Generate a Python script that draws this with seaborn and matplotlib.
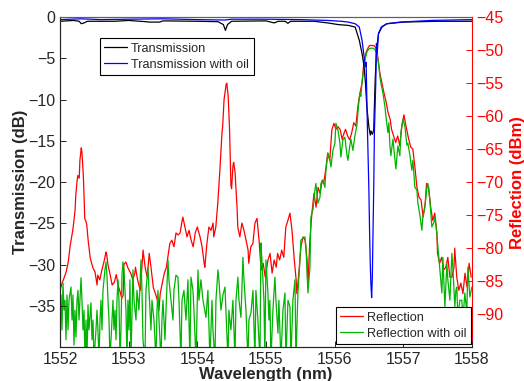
import pandas as pd
import matplotlib
matplotlib.use("Agg")
import matplotlib.pyplot as plt
import seaborn as sns

# ---- data (wavelength nm, value) ----
trans = [
    (1552.00, -0.5), (1552.20, -0.4), (1552.28, -0.5), (1552.31, -0.8), (1552.35, -0.7),
    (1552.40, -0.5), (1552.80, -0.5), (1553.00, -0.4), (1553.25, -0.55), (1553.30, -0.6),
    (1553.45, -0.6), (1553.50, -0.45), (1554.00, -0.5), (1554.30, -0.55), (1554.38, -0.9),
    (1554.41, -1.6), (1554.44, -0.9), (1554.50, -0.5), (1555.00, -0.45), (1555.12, -0.7),
    (1555.18, -0.5), (1555.28, -0.5), (1555.32, -0.75), (1555.36, -0.5), (1555.70, -0.5),
    (1555.90, -0.7), (1556.05, -0.9), (1556.20, -1.0), (1556.30, -1.2), (1556.36, -2.8),
    (1556.40, -4.4), (1556.43, -6.0), (1556.45, -8.0), (1556.47, -10.9), (1556.50, -13.3),
    (1556.52, -14.3), (1556.53, -13.8), (1556.55, -14.2), (1556.57, -13.7), (1556.59, -8.0),
    (1556.61, -4.0), (1556.64, -2.0), (1556.69, -1.2), (1556.76, -0.8), (1557.00, -0.6),
    (1557.50, -0.5), (1558.00, -0.5),
]

trans_oil = [
    (1552.00, -0.3), (1552.30, -0.2), (1552.60, -0.3), (1553.00, -0.25), (1553.50, -0.2),
    (1554.00, -0.3), (1554.40, -0.35), (1554.50, -0.25), (1555.00, -0.25), (1555.50, -0.3),
    (1555.90, -0.4), (1556.10, -0.5), (1556.20, -0.6), (1556.30, -0.8), (1556.36, -1.2),
    (1556.40, -2.8), (1556.43, -4.8), (1556.45, -6.0), (1556.46, -5.5), (1556.47, -10.0),
    (1556.48, -14.0), (1556.50, -21.0), (1556.51, -26.0), (1556.52, -30.0), (1556.53, -32.5),
    (1556.54, -34.0), (1556.55, -31.5), (1556.56, -26.0), (1556.57, -21.0), (1556.58, -14.0),
    (1556.60, -8.0), (1556.61, -3.2), (1556.62, -4.5), (1556.64, -2.0), (1556.68, -1.2),
    (1556.76, -0.8), (1556.95, -0.6), (1557.40, -0.4), (1558.00, -0.3),
]

refl = [
    (1552.00, -86.4), (1552.03, -85.3), (1552.06, -84.5), (1552.09, -83.6), (1552.12, -82.1),
    (1552.15, -79.5), (1552.17, -78.3), (1552.19, -77.0), (1552.22, -74.2), (1552.23, -72.0),
    (1552.25, -69.7), (1552.26, -69.0), (1552.28, -69.4), (1552.29, -66.7), (1552.31, -64.8),
    (1552.32, -65.5), (1552.34, -69.0), (1552.35, -72.0), (1552.36, -75.5), (1552.38, -76.0),
    (1552.39, -76.5), (1552.41, -78.8), (1552.44, -81.5), (1552.47, -82.6), (1552.48, -83.0),
    (1552.51, -83.6), (1552.54, -85.6), (1552.55, -84.1), (1552.58, -84.8), (1552.61, -83.3),
    (1552.64, -82.1), (1552.67, -80.6), (1552.68, -81.0), (1552.70, -82.6), (1552.73, -84.0),
    (1552.76, -85.6), (1552.79, -85.2), (1552.82, -84.0), (1552.85, -85.8), (1552.87, -86.4),
    (1552.90, -87.6), (1552.92, -87.2), (1552.93, -82.5), (1552.96, -82.1), (1552.99, -83.0),
    (1553.03, -83.8), (1553.06, -84.8), (1553.09, -83.8), (1553.10, -82.9), (1553.13, -84.8),
    (1553.17, -86.4), (1553.21, -80.3), (1553.24, -82.9), (1553.27, -84.4), (1553.30, -80.8),
    (1553.33, -83.3), (1553.36, -86.0), (1553.39, -86.9), (1553.42, -87.9), (1553.44, -89.5),
    (1553.46, -86.9), (1553.49, -85.3), (1553.52, -83.8), (1553.55, -82.9), (1553.58, -80.8),
    (1553.60, -79.3), (1553.63, -78.8), (1553.66, -79.8), (1553.69, -77.7), (1553.72, -78.0),
    (1553.75, -77.7), (1553.78, -75.8), (1553.79, -75.3), (1553.82, -76.8), (1553.85, -78.3),
    (1553.88, -77.3), (1553.91, -78.8), (1553.94, -79.8), (1553.97, -77.7), (1554.00, -76.8),
    (1554.04, -78.3), (1554.07, -79.8), (1554.10, -82.3), (1554.11, -82.9), (1554.14, -79.3),
    (1554.17, -76.8), (1554.20, -77.3), (1554.23, -76.2), (1554.24, -78.3), (1554.27, -76.8),
    (1554.30, -73.0), (1554.33, -68.0), (1554.36, -62.5), (1554.37, -61.5), (1554.39, -57.5),
    (1554.42, -55.2), (1554.43, -55.0), (1554.45, -57.0), (1554.47, -62.0), (1554.49, -70.5),
    (1554.50, -71.0), (1554.52, -67.5), (1554.53, -67.0), (1554.55, -68.5), (1554.58, -74.0),
    (1554.59, -76.8), (1554.62, -78.3), (1554.65, -76.2), (1554.68, -77.3), (1554.71, -78.8),
    (1554.74, -80.3), (1554.75, -82.3), (1554.78, -79.8), (1554.81, -79.3), (1554.84, -76.2),
    (1554.87, -75.5), (1554.90, -78.8), (1554.93, -83.3), (1554.96, -82.3), (1554.99, -84.4),
    (1555.03, -81.8), (1555.06, -80.8), (1555.09, -83.8), (1555.12, -81.8), (1555.15, -82.9),
    (1555.17, -80.8), (1555.20, -81.8), (1555.23, -80.3), (1555.26, -81.4), (1555.29, -76.8),
    (1555.32, -75.8), (1555.35, -74.7), (1555.38, -77.3), (1555.41, -81.4), (1555.44, -84.8),
    (1555.45, -86.9), (1555.48, -83.8), (1555.51, -79.8), (1555.54, -78.3), (1555.57, -78.8),
    (1555.60, -81.8), (1555.61, -86.0), (1555.64, -78.8), (1555.67, -74.7), (1555.70, -71.7),
    (1555.73, -73.8), (1555.76, -70.8), (1555.79, -71.7), (1555.82, -69.7), (1555.84, -70.2),
    (1555.87, -68.2), (1555.90, -65.6), (1555.93, -66.7), (1555.96, -62.1), (1555.99, -61.1),
    (1556.02, -62.0), (1556.05, -61.6), (1556.08, -62.0), (1556.11, -63.5), (1556.14, -62.5),
    (1556.16, -62.0), (1556.19, -63.0), (1556.22, -63.6), (1556.25, -62.5), (1556.28, -61.0),
    (1556.31, -61.5), (1556.34, -58.5), (1556.37, -56.5), (1556.40, -55.0), (1556.43, -51.5),
    (1556.46, -50.3), (1556.49, -49.6), (1556.51, -49.3), (1556.54, -49.3), (1556.57, -49.3),
    (1556.60, -49.6), (1556.63, -51.0), (1556.66, -53.5), (1556.69, -55.0), (1556.72, -56.5),
    (1556.75, -57.8), (1556.78, -59.5), (1556.81, -60.5), (1556.83, -62.0), (1556.86, -63.0),
    (1556.89, -64.0), (1556.92, -63.0), (1556.95, -64.5), (1556.98, -61.5), (1557.01, -59.8),
    (1557.04, -61.5), (1557.08, -63.5), (1557.11, -64.7), (1557.14, -65.0), (1557.17, -67.7),
    (1557.20, -70.8), (1557.23, -72.3), (1557.26, -72.7), (1557.29, -75.3), (1557.32, -73.2),
    (1557.34, -70.2), (1557.37, -70.8), (1557.40, -73.8), (1557.43, -75.8), (1557.46, -74.7),
    (1557.49, -77.7), (1557.50, -80.8), (1557.53, -82.3), (1557.56, -81.4), (1557.59, -83.3),
    (1557.62, -82.9), (1557.65, -81.4), (1557.68, -84.4), (1557.71, -84.4), (1557.74, -82.9),
    (1557.75, -80.0), (1557.78, -84.4), (1557.81, -86.4), (1557.84, -85.3), (1557.87, -86.9),
    (1557.90, -83.8), (1557.93, -85.9), (1557.96, -82.3), (1557.99, -84.4),
]

# values below -95 run off the bottom of the axes
refl_oil = [
    (1552.000, -90.9), (1552.015, -87.1), (1552.029, -92.4), (1552.044, -85.3), (1552.058, -89.4),
    (1552.073, -87.9), (1552.087, -93.9), (1552.102, -87.1), (1552.117, -92.4), (1552.131, -87.9),
    (1552.160, -85.9), (1552.175, -90.9), (1552.189, -87.1), (1552.204, -94.7), (1552.218, -89.4),
    (1552.233, -93.5), (1552.248, -87.9), (1552.262, -86.4), (1552.277, -90.9), (1552.306, -84.5),
    (1552.320, -87.9), (1552.335, -92.4), (1552.350, -89.4), (1552.364, -97.0), (1552.379, -90.9),
    (1552.393, -97.0), (1552.408, -88.6), (1552.422, -92.4), (1552.451, -88.3), (1552.466, -93.9),
    (1552.481, -90.9), (1552.495, -97.0), (1552.524, -92.4), (1552.539, -89.4), (1552.553, -92.4),
    (1552.568, -97.0), (1552.583, -90.9), (1552.597, -87.9), (1552.612, -92.4), (1552.626, -86.4),
    (1552.655, -83.3), (1552.670, -82.1), (1552.684, -84.1), (1552.699, -87.9), (1552.714, -90.9),
    (1552.728, -97.0), (1552.757, -90.9), (1552.772, -87.9), (1552.786, -92.4), (1552.801, -89.4),
    (1552.816, -93.9), (1552.830, -87.9), (1552.845, -84.8), (1552.859, -87.9), (1552.874, -97.0),
    (1552.888, -92.4), (1552.903, -84.1), (1552.917, -82.1), (1552.932, -83.3), (1552.947, -86.4),
    (1552.961, -89.4), (1552.976, -97.0),
    (1552.990, -87.9), (1553.005, -92.4), (1553.019, -84.8), (1553.034, -97.0), (1553.063, -83.3),
    (1553.078, -87.9), (1553.107, -90.9), (1553.121, -86.4), (1553.150, -89.4), (1553.180, -81.8),
    (1553.194, -86.4), (1553.209, -93.9), (1553.238, -97.0), (1553.252, -86.4), (1553.282, -82.9),
    (1553.296, -86.4), (1553.325, -92.4), (1553.340, -87.9), (1553.369, -90.9), (1553.398, -97.0),
    (1553.413, -89.4), (1553.427, -86.4), (1553.442, -90.9), (1553.471, -97.0), (1553.485, -90.9),
    (1553.500, -87.9), (1553.529, -93.9), (1553.544, -89.4), (1553.573, -81.8), (1553.587, -84.8),
    (1553.617, -87.9), (1553.646, -90.9), (1553.660, -86.4), (1553.689, -84.1), (1553.718, -84.4),
    (1553.733, -87.9), (1553.762, -97.0), (1553.777, -87.9), (1553.806, -86.4), (1553.835, -90.9),
    (1553.864, -84.8), (1553.893, -97.0), (1553.908, -84.4), (1553.937, -86.4), (1553.951, -89.4),
    (1553.981, -97.0), (1554.010, -83.3),
    (1554.024, -87.9), (1554.053, -84.8), (1554.083, -87.9), (1554.126, -90.5), (1554.155, -86.4),
    (1554.184, -97.0), (1554.214, -87.9), (1554.228, -92.4), (1554.257, -97.0), (1554.272, -87.9),
    (1554.301, -83.3), (1554.315, -84.8), (1554.345, -89.4), (1554.374, -87.1), (1554.403, -85.9),
    (1554.417, -89.4), (1554.447, -97.0), (1554.461, -89.4), (1554.490, -92.4), (1554.519, -87.9),
    (1554.549, -97.0), (1554.563, -87.9), (1554.592, -84.4), (1554.607, -87.9), (1554.636, -90.5),
    (1554.665, -81.4), (1554.680, -84.8), (1554.709, -89.4), (1554.738, -97.0), (1554.752, -90.9),
    (1554.782, -89.8), (1554.811, -86.4), (1554.840, -97.0), (1554.854, -86.4), (1554.883, -90.9),
    (1554.913, -97.0), (1554.927, -79.2), (1554.942, -81.8), (1554.971, -87.9), (1554.985, -97.0),
    (1555.000, -81.8),
    (1555.029, -86.8), (1555.044, -90.9), (1555.058, -87.9), (1555.073, -97.0), (1555.102, -89.4),
    (1555.131, -84.4), (1555.146, -87.9), (1555.175, -92.9), (1555.189, -87.9), (1555.218, -97.0),
    (1555.248, -89.4), (1555.277, -86.8), (1555.291, -97.0), (1555.321, -87.9), (1555.350, -88.9),
    (1555.364, -97.0), (1555.393, -87.9), (1555.423, -84.8), (1555.437, -97.0), (1555.466, -86.8),
    (1555.495, -81.8), (1555.510, -78.8), (1555.539, -78.5), (1555.568, -78.3), (1555.583, -79.8),
    (1555.612, -86.8), (1555.641, -82.9), (1555.655, -75.3), (1555.684, -74.2), (1555.714, -71.2),
    (1555.728, -70.2), (1555.757, -73.2), (1555.787, -72.3), (1555.801, -70.2), (1555.830, -69.7),
    (1555.859, -70.8), (1555.874, -68.2), (1555.903, -65.6), (1555.932, -66.7), (1555.947, -67.7),
    (1555.976, -65.2), (1556.005, -64.1), (1556.019, -61.1), (1556.049, -62.1),
    (1556.078, -64.1), (1556.092, -66.2), (1556.121, -63.6), (1556.150, -63.2), (1556.180, -65.9),
    (1556.194, -66.7), (1556.223, -64.4), (1556.238, -63.5), (1556.267, -65.2), (1556.296, -63.0),
    (1556.325, -61.4), (1556.340, -59.5), (1556.354, -57.8), (1556.369, -56.5), (1556.383, -57.0),
    (1556.398, -55.0), (1556.413, -53.8), (1556.442, -51.5), (1556.471, -50.3), (1556.500, -49.8),
    (1556.529, -49.7), (1556.559, -49.7), (1556.587, -49.9), (1556.617, -50.5), (1556.631, -51.5),
    (1556.646, -52.5), (1556.660, -54.0), (1556.675, -55.0), (1556.704, -56.5), (1556.733, -58.5),
    (1556.748, -60.0), (1556.777, -62.5), (1556.791, -61.0), (1556.806, -64.5), (1556.820, -66.0),
    (1556.850, -63.5), (1556.879, -66.5), (1556.893, -68.0), (1556.922, -64.5), (1556.951, -66.0),
    (1556.966, -62.5), (1556.995, -60.5), (1557.024, -61.5), (1557.053, -64.4), (1557.068, -64.1),
    (1557.097, -65.9), (1557.126, -68.2), (1557.141, -66.7), (1557.170, -70.8), (1557.199, -71.2),
    (1557.214, -73.2), (1557.243, -75.0), (1557.272, -77.3), (1557.286, -75.3), (1557.316, -73.8),
    (1557.345, -70.8), (1557.359, -70.2), (1557.388, -72.7), (1557.417, -76.8), (1557.447, -76.1),
    (1557.461, -75.3), (1557.490, -77.7), (1557.505, -79.8), (1557.534, -83.3), (1557.563, -86.8),
    (1557.578, -81.4), (1557.607, -88.9), (1557.636, -82.3), (1557.650, -84.8), (1557.680, -87.9),
    (1557.709, -80.8), (1557.723, -82.9), (1557.752, -88.9), (1557.767, -86.4), (1557.781, -85.9),
    (1557.796, -90.5), (1557.825, -87.9), (1557.854, -87.9), (1557.869, -90.9), (1557.898, -86.8),
    (1557.927, -89.8), (1557.942, -82.9), (1557.971, -87.4), (1558.000, -85.9),
]

x_ticks = [1552, 1553, 1554, 1555, 1556, 1557, 1558]
t_ticks = [0, -5, -10, -15, -20, -25, -30, -35]
r_ticks = [-45, -50, -55, -60, -65, -70, -75, -80, -85, -90]


def to_df(pairs):
    return pd.DataFrame(pairs, columns=["wl", "val"])


sns.set_style("ticks")
plt.rcParams["font.family"] = ["Liberation Sans", "DejaVu Sans"]
plt.rcParams["xtick.direction"] = "in"
plt.rcParams["ytick.direction"] = "in"

fig = plt.figure(figsize=(5.24, 3.81), dpi=100)
ax = fig.add_axes([0.1145, 0.089, 0.786, 0.866])
ax2 = ax.twinx()

# reflection on the right axis (drawn underneath)
sns.lineplot(data=to_df(refl), x="wl", y="val", ax=ax2, color="#ff0000",
             lw=0.9, estimator=None, sort=False, label="Reflection")
sns.lineplot(data=to_df(refl_oil), x="wl", y="val", ax=ax2, color="#00b400",
             lw=0.9, estimator=None, sort=False, label="Reflection with oil")

# transmission on the left axis (on top)
sns.lineplot(data=to_df(trans), x="wl", y="val", ax=ax, color="black",
             lw=0.9, estimator=None, sort=False, label="Transmission")
sns.lineplot(data=to_df(trans_oil), x="wl", y="val", ax=ax, color="#0000ff",
             lw=0.9, estimator=None, sort=False, label="Transmission with oil")

ax.set_zorder(ax2.get_zorder() + 1)
ax.patch.set_visible(False)

ax.set_xlim(1552, 1558)
ax.set_ylim(-40, 0)
ax2.set_ylim(-95, -45)
ax.set_xticks(x_ticks)
ax.set_yticks(t_ticks)
ax2.set_yticks(r_ticks)

ax.tick_params(labelsize=11.5, length=4, width=0.7, top=False)
ax2.tick_params(labelsize=11.5, length=4, width=0.7, colors="#ff0000")

ax.set_xlabel("Wavelength (nm)", fontsize=12, fontweight="bold", labelpad=0)
ax.set_ylabel("Transmission (dB)", fontsize=12, fontweight="bold", labelpad=0)
ax2.set_ylabel("Reflection (dBm)", fontsize=12, fontweight="bold", color="#ff0000", labelpad=4)

for s in ["left", "bottom"]:
    ax.spines[s].set_linewidth(0.8)
ax.spines["top"].set_color("#606060")
ax2.spines["top"].set_color("#606060")
ax2.spines["right"].set_color("#ff0000")
ax.spines["right"].set_visible(False)

leg_kw = dict(fontsize=9.2, fancybox=False, edgecolor="black", framealpha=1,
              handlelength=1.8, handletextpad=0.3, borderpad=0.35, labelspacing=0.3,
              borderaxespad=0)

leg1 = ax.legend(loc="upper left", bbox_to_anchor=(0.097, 0.936), **leg_kw)
leg1.get_frame().set_linewidth(0.8)
ax.add_artist(leg1)

h2, l2 = ax2.get_legend_handles_labels()
ax2.get_legend().remove()
leg2 = ax.legend(h2, l2, loc="lower right", bbox_to_anchor=(0.998, 0.009), **leg_kw)
leg2.get_frame().set_linewidth(0.8)

fig.savefig("out.png", dpi=100)
